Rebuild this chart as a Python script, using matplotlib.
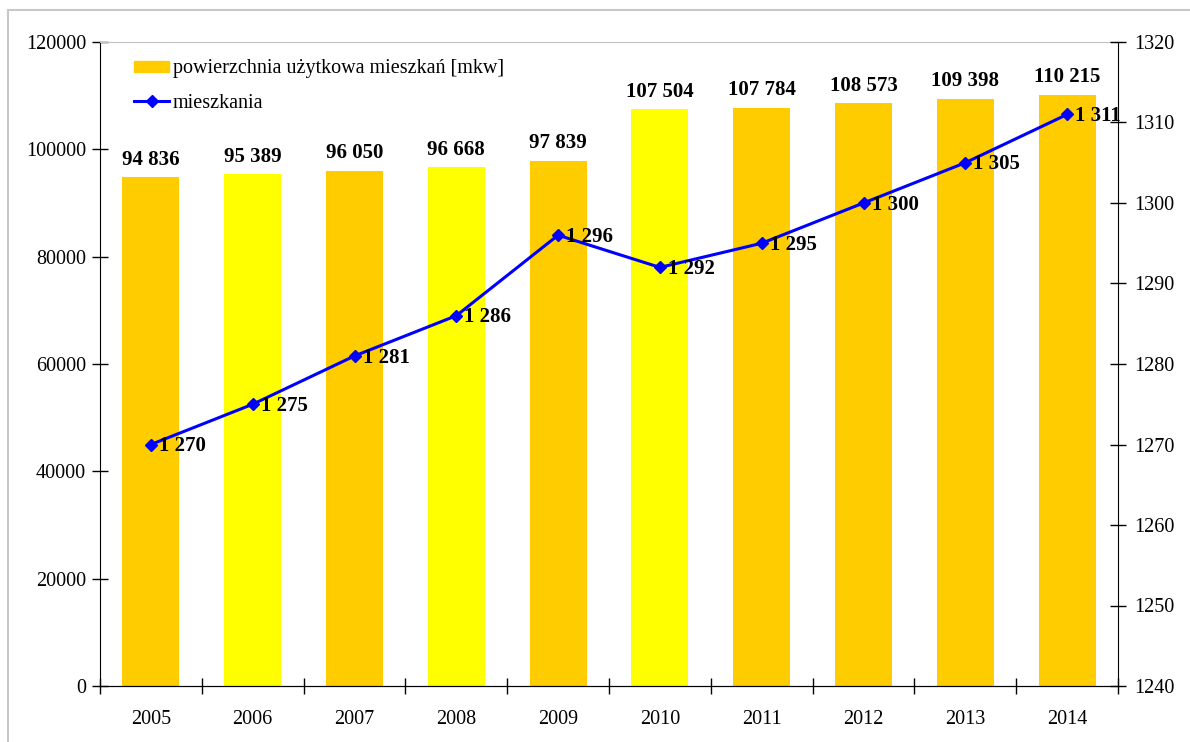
import matplotlib
matplotlib.use('Agg')
import matplotlib.pyplot as plt
from matplotlib.patches import Rectangle, Patch
from matplotlib.ticker import MultipleLocator

plt.rcParams['font.family'] = ['Liberation Serif', 'DejaVu Serif']

years = ['2005', '2006', '2007', '2008', '2009', '2010', '2011', '2012', '2013', '2014']
area = [94836, 95389, 96050, 96668, 97839, 107504, 107784, 108573, 109398, 110215]
flats = [1270, 1275, 1281, 1286, 1296, 1292, 1295, 1300, 1305, 1311]
bar_colors = ['#FFCC00', '#FFFF00', '#FFCC00', '#FFFF00', '#FFCC00',
              '#FFFF00', '#FFCC00', '#FFCC00', '#FFCC00', '#FFCC00']


def spaced(v):
    return f"{v:,}".replace(',', ' ')


fig = plt.figure(figsize=(11.9, 7.42), dpi=100)
fig.patches.append(Rectangle((8 / 1190, -0.01), 1.0, 742 / 742 - 10 / 742 + 0.01,
                             transform=fig.transFigure, fill=False,
                             edgecolor='#c8c8c8', linewidth=1.5))

ax = fig.add_axes([100 / 1190, 56 / 742, 1018 / 1190, 644 / 742])
x = range(len(years))
ax.bar(x, area, width=0.56, color=bar_colors, zorder=2)
for xi, v in zip(x, area):
    ax.text(xi, v + 1400, spaced(v), ha='center', va='bottom',
            fontsize=15, fontweight='bold')

ax.set_xlim(-0.5, len(years) - 0.5)
ax.set_ylim(0, 120000)
ax.yaxis.set_major_locator(MultipleLocator(20000))
ax.set_xticks([i - 0.5 for i in range(len(years) + 1)])
ax.set_xticklabels([''] * (len(years) + 1))
ax.set_xticks(list(x), minor=True)
ax.set_xticklabels(years, minor=True)
ax.tick_params(axis='x', which='major', direction='inout', length=12, width=1)
ax.tick_params(axis='x', which='minor', length=0, pad=17, labelsize=14.5)
ax.tick_params(axis='y', direction='inout', length=12, width=1, labelsize=14.5, pad=4)
ax.spines['top'].set_color('#c0c0c0')
ax.spines['right'].set_visible(False)

ax2 = ax.twinx()
line, = ax2.plot(x, flats, color='#0000FF', linewidth=2.2, marker='D',
                 markersize=6, zorder=3)
for xi, v in zip(x, flats):
    ax2.text(xi + 0.08, v - 0.2, spaced(v), ha='left', va='center',
             fontsize=15, fontweight='bold')
ax2.set_ylim(1240, 1320)
ax2.yaxis.set_major_locator(MultipleLocator(10))
ax2.tick_params(axis='y', direction='inout', length=12, width=1, labelsize=14.5, pad=6)
ax2.spines['top'].set_visible(False)
ax2.spines['left'].set_visible(False)
ax.set_zorder(ax2.get_zorder() - 1)
ax2.patch.set_visible(False)

handles = [Patch(color='#FFCC00'), line]
ax2.legend(handles, ['powierzchnia użytkowa mieszkań [mkw]', 'mieszkania'],
           loc='upper left', bbox_to_anchor=(0.018, 0.998), frameon=False,
           fontsize=14.5, handlelength=1.7, handleheight=0.5, labelspacing=0.75,
           handletextpad=0.2, borderpad=0.3)

fig.savefig('out.png', dpi=100)
